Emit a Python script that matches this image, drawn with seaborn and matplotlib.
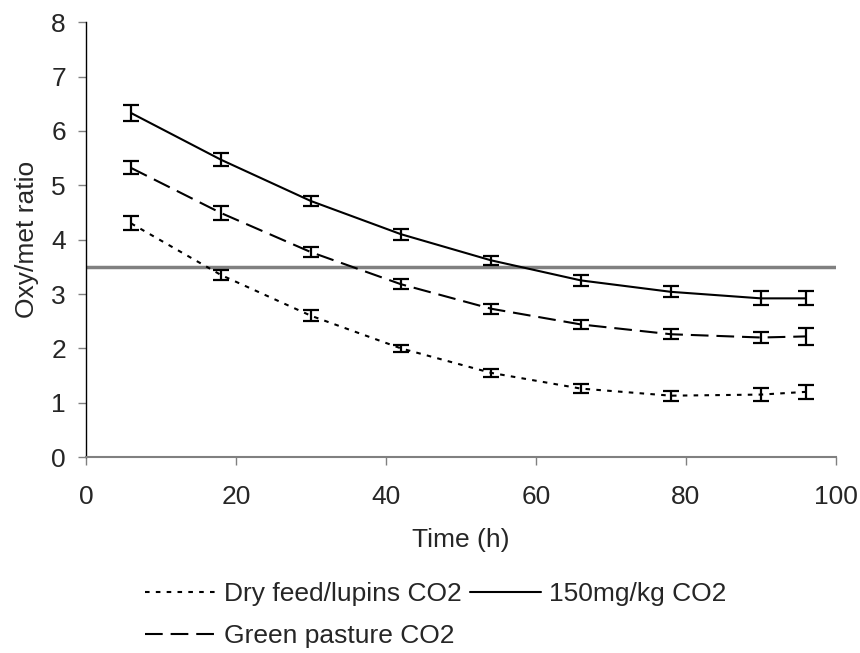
import matplotlib
matplotlib.use("Agg")
import matplotlib.pyplot as plt
import seaborn as sns
import pandas as pd

time_h = [6, 18, 30, 42, 54, 66, 78, 90, 96]
series_names = ["Dry feed/lupins CO2", "150mg/kg CO2", "Green pasture CO2"]
dry_feed = [4.30, 3.35, 2.60, 2.00, 1.55, 1.26, 1.13, 1.15, 1.20]
dry_feed_err = [0.13, 0.09, 0.10, 0.07, 0.07, 0.08, 0.09, 0.12, 0.13]
mg150 = [6.33, 5.47, 4.71, 4.10, 3.62, 3.25, 3.04, 2.92, 2.92]
mg150_err = [0.14, 0.12, 0.10, 0.10, 0.08, 0.10, 0.10, 0.13, 0.13]
green = [5.32, 4.49, 3.77, 3.18, 2.73, 2.44, 2.26, 2.20, 2.22]
green_err = [0.12, 0.12, 0.09, 0.09, 0.09, 0.08, 0.09, 0.11, 0.15]
threshold = 3.5
x_ticks = [0, 20, 40, 60, 80, 100]
y_ticks = [0, 1, 2, 3, 4, 5, 6, 7, 8]

sns.set_style("white")
plt.rcParams['font.family'] = ['Liberation Sans', 'DejaVu Sans']
FS = 19

rows = []
for name, vals in zip(series_names, [dry_feed, mg150, green]):
    for t, v in zip(time_h, vals):
        rows.append({"Time": t, "Ratio": v, "Series": name})
df = pd.DataFrame(rows)

fig = plt.figure(figsize=(8.6, 6.53), dpi=100)
ax = fig.add_axes([0.1, 0.30, 0.872, 0.666])

dashes = {
    "Dry feed/lupins CO2": (2.2, 3.0),
    "150mg/kg CO2": "",
    "Green pasture CO2": (8.5, 3.8),
}
sns.lineplot(data=df, x="Time", y="Ratio", hue="Series", style="Series",
             palette={n: "black" for n in series_names}, dashes=dashes,
             linewidth=1.5, ax=ax, legend=True, estimator=None, sort=False)

for vals, errs in [(dry_feed, dry_feed_err), (mg150, mg150_err), (green, green_err)]:
    ax.errorbar(time_h, vals, yerr=errs, fmt="none", ecolor="black",
                elinewidth=1.6, capsize=5.5, capthick=1.6, zorder=3)

ax.axhline(threshold, color="#808080", linewidth=2.5, zorder=1)

ax.set_xlim(0, 100)
ax.set_ylim(0, 8)
ax.set_xticks(x_ticks)
ax.set_yticks(y_ticks)
ax.tick_params(axis="both", labelsize=FS, direction="out", length=5.8,
               color="#808080", width=1, bottom=True, left=True)
ax.tick_params(axis="x", pad=14)
ax.tick_params(axis="y", pad=8.6)
ax.xaxis.get_major_ticks()[0].tick1line.set_color("black")
ax.set_xlabel("Time (h)", fontsize=FS, labelpad=14)
ax.set_ylabel("Oxy/met ratio", fontsize=FS, labelpad=9)

for s in ["top", "right"]:
    ax.spines[s].set_visible(False)
ax.spines["left"].set_color("black")
ax.spines["left"].set_linewidth(1)
ax.spines["bottom"].set_color("#808080")
ax.spines["bottom"].set_linewidth(1.5)

handles, labels = ax.get_legend_handles_labels()
hmap = dict(zip(labels, handles))
order = ["Dry feed/lupins CO2", "Green pasture CO2", "150mg/kg CO2"]
ax.legend([hmap[k] for k in order], order, ncol=2, frameon=False,
          fontsize=FS, loc="upper left", bbox_to_anchor=(145 / 860, 0.108),
          bbox_transform=fig.transFigure, borderpad=0, borderaxespad=0,
          handlelength=2.7, handletextpad=0.3, columnspacing=0.3,
          labelspacing=0.68)

fig.savefig("out.png", dpi=100)
